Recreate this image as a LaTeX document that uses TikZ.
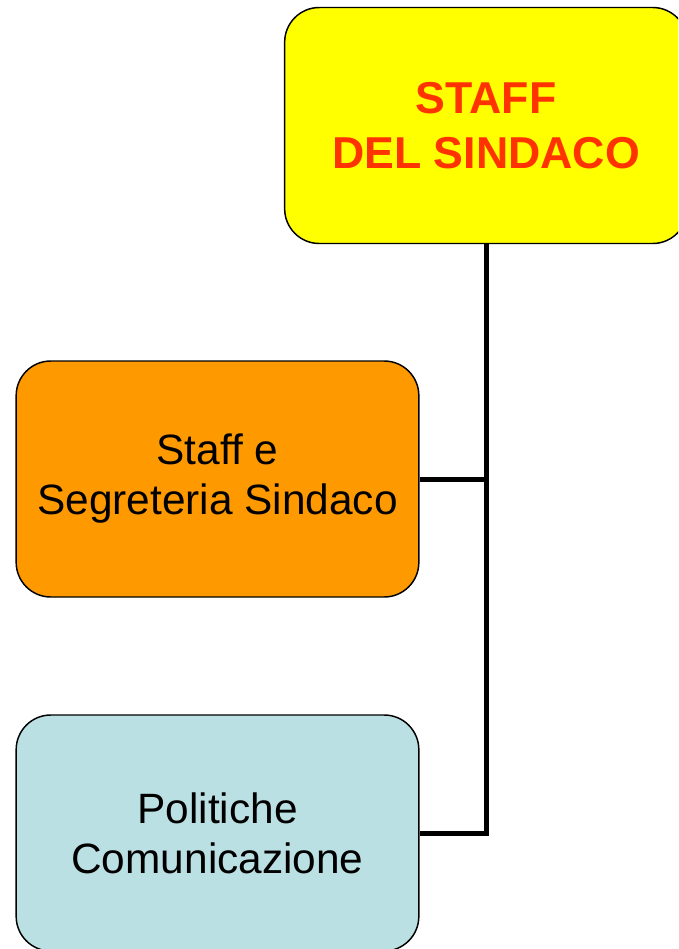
\documentclass[tikz,border=0pt]{standalone}
\usepackage{fontspec}
\setmainfont{Liberation Sans}
\usepackage{tikz}
\usetikzlibrary{positioning}

\definecolor{giallo}{HTML}{FFFF00}
\definecolor{arancio}{HTML}{FF9900}
\definecolor{azzurro}{HTML}{BBE0E3}
\definecolor{rosso}{HTML}{FF3300}

\begin{document}
\begin{tikzpicture}[x=0.75pt, y=-0.75pt, thick,
  box/.style = {draw, line width=1.1pt, rounded corners=26pt, align=center,
    minimum width=302pt, minimum height=177pt, inner sep=0pt,
    font=\fontsize{31.8}{37.5}\selectfont},
  link/.style = {line width=3.75pt}]
\useasboundingbox (0,0) rectangle (678,949);
\clip (0,0) rectangle (678,949);
\node[box, fill=giallo, text=rosso, font=\fontsize{33.5}{41}\selectfont\bfseries] (staff) at (486,125.5) {STAFF\\DEL SINDACO};
\node[box, fill=arancio] (segr) at (217.5,479) {Staff e\\Segreteria Sindaco};
\node[box, fill=azzurro] (pol) at (217.5,833) {Politiche\\Comunicazione};

\draw[link] (staff.south) |- (segr.east);
\draw[link] (staff.south) |- (pol.east);
\end{tikzpicture}
\end{document}
